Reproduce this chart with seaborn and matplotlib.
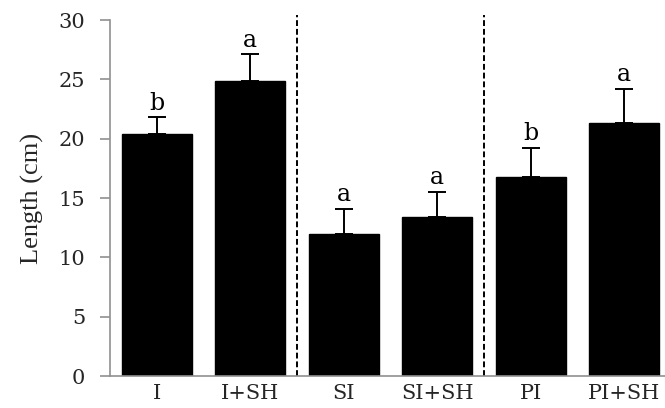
import matplotlib
matplotlib.use("Agg")
import matplotlib.pyplot as plt
import seaborn as sns
import pandas as pd
import numpy as np

categories = ["I", "I+SH", "SI", "SI+SH", "PI", "PI+SH"]
means = [20.4, 24.9, 12.0, 13.4, 16.8, 21.3]
errors = [1.4, 2.2, 2.05, 2.1, 2.4, 2.9]
letters = ["b", "a", "a", "a", "b", "a"]
yticks = [0, 5, 10, 15, 20, 25, 30]

sns.set_style("white")
plt.rcParams["font.family"] = ["DejaVu Serif"]

df = pd.DataFrame({"cat": categories, "val": means})

fig = plt.figure(figsize=(6.65, 4.08), dpi=100)
ax = fig.add_axes([110/665, 32/408, 561/665, 356/408])

sns.barplot(data=df, x="cat", y="val", color="black", saturation=1,
            width=0.75, ax=ax, errorbar=None, edgecolor="black")

x = np.arange(len(categories))
ax.errorbar(x, means, yerr=[np.zeros(len(means)), errors], fmt="none",
            ecolor="black", elinewidth=1.4, capsize=6.5, capthick=1.4)

for xi, m, e, l in zip(x, means, errors, letters):
    ax.annotate(l, (xi, m + e), xytext=(0, 2), textcoords="offset points",
                ha="center", va="bottom", fontsize=17, color="black")

for xv in [1.5, 3.5]:
    ax.axvline(xv, ymin=0, ymax=1.015, color="black", lw=1.4,
               linestyle=(0, (3, 1.5)), clip_on=False)

ax.set_xlim(-0.5, 5.5)
ax.set_ylim(0, 30)
ax.set_yticks(yticks)
ax.set_yticklabels([str(t) for t in yticks], fontsize=15)
ax.set_xticks(x)
ax.set_xticklabels(categories, fontsize=15)
ax.set_xticks(np.arange(-0.5, 6, 1), minor=True)
ax.tick_params(axis="x", which="major", length=0, pad=6)
ax.tick_params(axis="x", which="minor", length=5, color="#909090", width=1.2, direction="out")
ax.tick_params(axis="y", length=7, color="#909090", width=1.2, direction="out", pad=11, left=True)
ax.set_xlabel("")
ax.set_ylabel("Length (cm)", fontsize=19, family="Liberation Serif", labelpad=10)

for s in ["top", "right"]:
    ax.spines[s].set_visible(False)
for s in ["left", "bottom"]:
    ax.spines[s].set_color("#909090")
    ax.spines[s].set_linewidth(1.2)

fig.savefig("out.png", dpi=100)
